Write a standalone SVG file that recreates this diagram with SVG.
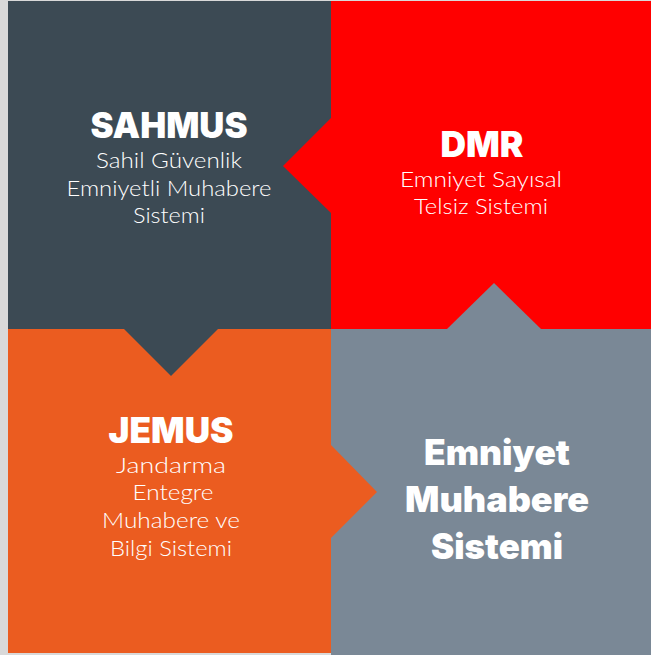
<svg xmlns="http://www.w3.org/2000/svg" width="651" height="655" viewBox="0 0 651 655">
  <style>
    .title { font-family: Inter, Lato, "Liberation Sans", sans-serif; font-weight: 900; fill: #ffffff; text-anchor: middle; }
    .sub { font-family: Lato, "Liberation Sans", sans-serif; font-weight: 300; font-size: 22px; fill: #ffffff; text-anchor: middle; }
  </style>
  <rect x="0" y="0" width="651" height="655" fill="#d9d9d9"/>
  <g id="sahmus">
    <rect x="8" y="1" width="323" height="328" fill="#3c4a54"/>
    <text class="title" x="169" y="138" font-size="35" textLength="157" lengthAdjust="spacingAndGlyphs">SAHMUS</text>
    <text class="sub" x="169" y="168" textLength="146" lengthAdjust="spacingAndGlyphs">Sahil Güvenlik</text>
    <text class="sub" x="169" y="196" textLength="205" lengthAdjust="spacingAndGlyphs">Emniyetli Muhabere</text>
    <text class="sub" x="169" y="223" textLength="72" lengthAdjust="spacingAndGlyphs">Sistemi</text>
  </g>
  <g id="dmr">
    <rect x="331" y="1" width="320" height="328" fill="#ff0000"/>
    <text class="title" x="482" y="157" font-size="35" textLength="83" lengthAdjust="spacingAndGlyphs">DMR</text>
    <text class="sub" x="481" y="187" textLength="162" lengthAdjust="spacingAndGlyphs">Emniyet Sayısal</text>
    <text class="sub" x="481" y="214" textLength="134" lengthAdjust="spacingAndGlyphs">Telsiz Sistemi</text>
  </g>
  <g id="jemus">
    <rect x="8" y="329" width="323" height="324" fill="#eb5c20"/>
    <text class="title" x="171" y="443" font-size="35" textLength="125" lengthAdjust="spacingAndGlyphs">JEMUS</text>
    <text class="sub" x="171" y="473" textLength="110" lengthAdjust="spacingAndGlyphs">Jandarma</text>
    <text class="sub" x="173" y="500" textLength="81" lengthAdjust="spacingAndGlyphs">Entegre</text>
    <text class="sub" x="171" y="528" textLength="138" lengthAdjust="spacingAndGlyphs">Muhabere ve</text>
    <text class="sub" x="171" y="556" textLength="122" lengthAdjust="spacingAndGlyphs">Bilgi Sistemi</text>
  </g>
  <g id="emniyet-muhabere-sistemi">
    <rect x="331" y="329" width="320" height="326" fill="#7a8896"/>
    <text class="title" x="497" y="465" font-size="35" textLength="146" lengthAdjust="spacingAndGlyphs">Emniyet</text>
    <text class="title" x="497" y="512" font-size="35" textLength="184" lengthAdjust="spacingAndGlyphs">Muhabere</text>
    <text class="title" x="497" y="559" font-size="35" textLength="132" lengthAdjust="spacingAndGlyphs">Sistemi</text>
  </g>
  <g id="connectors">
    <polygon points="331,118 283,166 331,213" fill="#ff0000"/>
    <polygon points="124,329 218,329 171,376" fill="#3c4a54"/>
    <polygon points="447,329 541,329 494,283" fill="#7a8896"/>
    <polygon points="331,445 377,492 331,538" fill="#eb5c20"/>
  </g>
</svg>
